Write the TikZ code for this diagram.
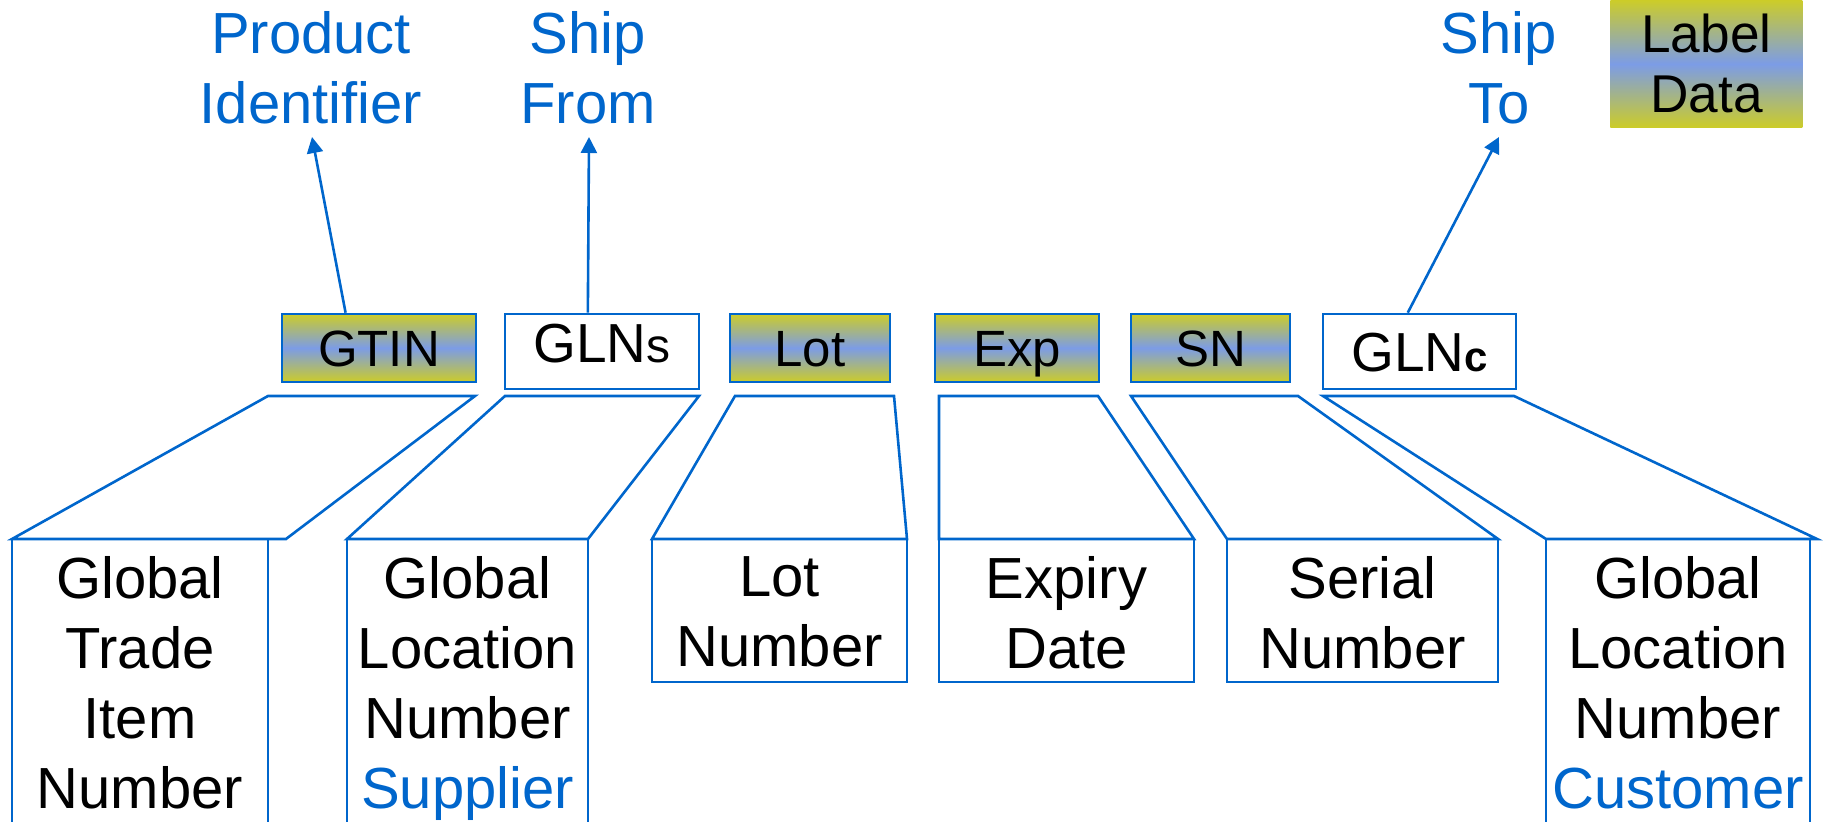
\documentclass[tikz,border=0pt]{standalone}
\usepackage{fontspec}
\setmainfont{Liberation Sans}
\usetikzlibrary{arrows.meta,calc}
\definecolor{lnblue}{RGB}{0,102,204}
\definecolor{ylw}{RGB}{204,204,41}
\definecolor{midb}{RGB}{124,156,230}
\begin{document}
\begin{tikzpicture}[x=0.5pt,y=-0.5pt,
  lbl/.style={draw=lnblue, line width=1.3pt},
  gradbox/.style={draw=lnblue, line width=1.3pt, top color=ylw, bottom color=ylw, middle color=midb,
    inner sep=0pt, anchor=base, font=\fontsize{25.5}{30}\selectfont, text height=26.5pt, text depth=7.5pt},
  whitebox/.style={draw=lnblue, line width=1.3pt, fill=white, inner sep=0pt, anchor=base,
    font=\fontsize{27.5}{30}\selectfont},
  bigtext/.style={align=center, inner sep=0pt, anchor=north, font=\fontsize{29}{35}\selectfont},
  toptext/.style={bigtext, text=lnblue},
  legendbox/.style={top color=ylw, bottom color=ylw, middle color=midb, inner sep=0pt,
    align=center, font=\fontsize{26.6}{30}\selectfont, anchor=north west,
    minimum width=96pt, minimum height=63.5pt},
  arr/.style={draw=lnblue, line width=1.3pt, -{Triangle[length=8pt,width=8pt]}}
]
\useasboundingbox (0,0) rectangle (1826,822);
\clip (0,0) rectangle (1826,822);

% top labels
\node[toptext] (pid) at (311,11) {Product\\Identifier};
\node[toptext] (sfrom) at (588,11) {Ship\\From};
\node[toptext] (sto) at (1499,11) {Ship\\To};
\node[legendbox] (legend) at (1610,0) {Label\\Data};

\coordinate (pidA) at (312,137);
\coordinate (sfromA) at (589,137);
\coordinate (stoA) at (1499,137);

% small label boxes
\node[gradbox, minimum width=97pt] (gtin) at (379,367) {GTIN};
\node[whitebox, minimum width=97pt, text height=24.5pt, text depth=13pt] (glns) at (602,363)
  {GLN{\fontsize{24}{24}\selectfont s}};
\node[gradbox, minimum width=80pt] (lot) at (810,367) {Lot};
\node[gradbox, minimum width=82pt] (exp) at (1017,367) {Exp};
\node[gradbox, minimum width=79.5pt] (sn) at (1210.5,367) {SN};
\node[whitebox, minimum width=96.5pt, text height=29pt, text depth=8.5pt] (glnc) at (1419.5,372)
  {GLN{\fontsize{21}{21}\selectfont\bfseries c}};

% arrows
\draw[arr] ($(gtin.north west)!0.33!(gtin.north east)$) -- (pidA);
\draw[arr] ($(glns.north west)!0.428!(glns.north east)$) -- (sfromA);
\draw[arr] ($(glnc.north west)!0.44!(glnc.north east)$) -- (stoA);

% trapezoids
\draw[lbl] (268,396) -- (475,396) -- (286,539) -- (12,539) -- cycle;
\draw[lbl] (505,396) -- (699,396) -- (588,539) -- (347,539) -- cycle;
\draw[lbl] (735,396) -- (894,396) -- (907,539) -- (652,539) -- cycle;
\draw[lbl] (939,396) -- (1098,396) -- (1194,539) -- (939,539) -- cycle;
\draw[lbl] (1131,396) -- (1298,396) -- (1498,539) -- (1227,539) -- cycle;
\draw[lbl] (1323,396) -- (1514,396) -- (1817,539) -- (1546,539) -- cycle;

% detail boxes
\draw[lbl] (12,850) -- (12,539) -- (268,539) -- (268,850);
\draw[lbl] (347,850) -- (347,539) -- (588,539) -- (588,850);
\draw[lbl] (652,539) rectangle (907,682);
\draw[lbl] (939,539) rectangle (1194,682);
\draw[lbl] (1227,539) rectangle (1498,682);
\draw[lbl] (1546,850) -- (1546,539) -- (1810,539) -- (1810,850);

\node[bigtext] (gtinT) at (140,556) {Global\\Trade\\Item\\Number};
\node[bigtext] (glnsT) at (467.5,556) {Global\\Location\\Number\\\textcolor{lnblue}{Supplier}};
\node[bigtext] (lotT) at (779.5,556) {Lot\\Number};
\node[bigtext] (expT) at (1066.5,556) {Expiry\\Date};
\node[bigtext] (snT) at (1362.5,556) {Serial\\Number};
\node[bigtext] (glncT) at (1678,556) {Global\\Location\\Number\\\textcolor{lnblue}{Customer}};
\end{tikzpicture}
\end{document}
